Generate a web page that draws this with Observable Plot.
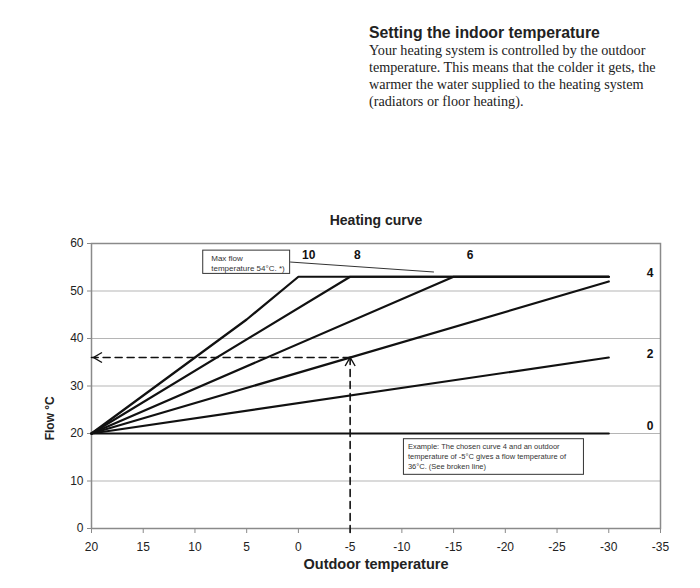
<!DOCTYPE html>
<html>
<head>
<meta charset="utf-8">
<script src="https://cdn.jsdelivr.net/npm/d3@7"></script>
<script src="https://cdn.jsdelivr.net/npm/@observablehq/plot@0.6"></script>
<style>
  html, body { margin: 0; padding: 0; background: #fff; }
  #wrap { position: relative; width: 700px; height: 588px; overflow: hidden; }
  #header { position: absolute; left: 369px; top: 23px; width: 331px; color: #222; }
  #header h2 { margin: 0; font: bold 15.8px "Liberation Sans", Arial, sans-serif; line-height: 19px; }
  #header p { margin: 0; font: 14.2px "Liberation Serif", "Times New Roman", serif; line-height: 17px; white-space: nowrap; }
  #chart { position: absolute; left: 0; top: 0; }
</style>
</head>
<body>
<div id="wrap">
  <div id="chart"></div>
  <div id="header">
    <h2>Setting the indoor temperature</h2>
    <p>Your heating system is controlled by the outdoor<br>temperature. This means that the colder it gets, the<br>warmer the water supplied to the heating system<br>(radiators or floor heating).</p>
  </div>
</div>
<script>
// ---- Data ----
const curve0  = [[20, 20], [-30, 20]];
const curve2  = [[20, 20], [-30, 36]];
const curve4  = [[20, 20], [-30, 52]];
const curve6  = [[20, 20], [-15, 53], [-30, 53]];
const curve8  = [[20, 20], [-5, 53], [-30, 53]];
const curve10 = [[20, 20], [5, 44], [0, 53], [-30, 53]];
const curveNames = ["0", "2", "4", "6", "8", "10"];
const curvePoints = [curve0, curve2, curve4, curve6, curve8, curve10];

// curve labels (name, outdoor temp, flow)
const labelNames = ["10", "8", "6", "4", "2", "0"];
const labelX = [-1, -5.7, -16.6, -34, -34, -34];
const labelY = [57.6, 57.6, 57.6, 53.8, 36.6, 21.5];

const xTicks = [20, 15, 10, 5, 0, -5, -10, -15, -20, -25, -30, -35];
const yTicks = [0, 10, 20, 30, 40, 50, 60];
const gridTicks = [10, 20, 30, 40, 50];

// example: curve 4 at -5 °C gives 36 °C
const exampleOutdoor = -5;
const exampleFlow = 36;

// annotation boxes (data coordinates)
const maxBox = {x1: 9.2, x2: 0.8, y1: 53.6, y2: 58.5};
const maxLeader = [[0.8, 56.1], [-13.1, 54.0]];
const maxText = "Max flow\ntemperature 54°C. *)";
const exBox = {x1: -10.2, x2: -27.6, y1: 11.3, y2: 18.8};
const exText = "Example: The chosen curve 4 and an outdoor\ntemperature of -5°C gives a flow temperature of\n36°C. (See broken line)";

// ---- Build table ----
const lineData = [];
curvePoints.forEach((pts, i) => pts.forEach(([x, y]) => lineData.push({curve: curveNames[i], x, y})));
const labels = labelNames.map((n, i) => ({n, x: labelX[i], y: labelY[i]}));

// open chevron symbols for arrowheads
const chevronLeft = {draw(ctx, size) { const r = Math.sqrt(size / Math.PI); ctx.moveTo(r * 1.7, -r); ctx.lineTo(0, 0); ctx.lineTo(r * 1.7, r); }};
const chevronUp = {draw(ctx, size) { const r = Math.sqrt(size / Math.PI); ctx.moveTo(-r, r * 1.7); ctx.lineTo(0, 0); ctx.lineTo(r, r * 1.7); }};

const font = "'Liberation Sans', Arial, sans-serif";

const chart = Plot.plot({
  width: 700,
  height: 588,
  marginLeft: 91,
  marginRight: 40,
  marginTop: 243,
  marginBottom: 60,
  style: {fontFamily: font, fontSize: "12px", color: "#222", background: "transparent"},
  x: {domain: [20, -35], ticks: xTicks, tickFormat: d => String(d), tickSize: 5, tickPadding: 9, label: null},
  y: {domain: [0, 60], ticks: yTicks, tickFormat: d => String(d), tickSize: 4, tickPadding: 4, label: null},
  marks: [
    Plot.gridY(gridTicks, {stroke: "#b5b5b5", strokeOpacity: 1, strokeWidth: 1}),
    Plot.frame({stroke: "#8a8a8a", strokeWidth: 1.5}),
    Plot.axisX({ticks: xTicks, tickFormat: d => String(d), tickSize: 5, tickPadding: 9, stroke: "#8a8a8a", fill: "#222", label: null}),
    Plot.axisY({ticks: yTicks, tickFormat: d => String(d), tickSize: 4, tickPadding: 4, stroke: "#8a8a8a", fill: "#222", label: null}),
    // dashed example lines
    Plot.line([{x: exampleOutdoor, y: exampleFlow}, {x: 20, y: exampleFlow}], {x: "x", y: "y", stroke: "#111", strokeWidth: 1.6, strokeDasharray: "7,5"}),
    Plot.line([{x: exampleOutdoor, y: exampleFlow}, {x: exampleOutdoor, y: -1.5}], {x: "x", y: "y", stroke: "#111", strokeWidth: 1.6, strokeDasharray: "7,5", clip: false}),
    Plot.dot([{x: 20, y: exampleFlow}], {x: "x", y: "y", symbol: chevronLeft, r: 5, fill: "none", stroke: "#111", strokeWidth: 1.4, dx: 2}),
    Plot.dot([{x: exampleOutdoor, y: exampleFlow}], {x: "x", y: "y", symbol: chevronUp, r: 5, fill: "none", stroke: "#111", strokeWidth: 1.4}),
    // curves
    Plot.line(lineData, {x: "x", y: "y", z: "curve", stroke: "#111", strokeWidth: 2.2, strokeLinejoin: "miter"}),
    // curve labels
    Plot.text(labels, {x: "x", y: "y", text: "n", fontWeight: "bold", fontSize: 12, fill: "#111"}),
    // max flow annotation
    Plot.link([maxLeader], {x1: d => d[0][0], y1: d => d[0][1], x2: d => d[1][0], y2: d => d[1][1], stroke: "#333", strokeWidth: 1}),
    Plot.rect([maxBox], {x1: "x1", x2: "x2", y1: "y1", y2: "y2", fill: "white", stroke: "#333", strokeWidth: 1}),
    Plot.text([maxText], {x: maxBox.x1, y: maxBox.y2, text: d => d, textAnchor: "start", lineAnchor: "top", fontSize: 8, lineHeight: 1.3, dx: 8, dy: 3, fill: "#333"}),
    // example annotation
    Plot.rect([exBox], {x1: "x1", x2: "x2", y1: "y1", y2: "y2", fill: "white", stroke: "#333", strokeWidth: 1}),
    Plot.text([exText], {x: exBox.x1, y: exBox.y2, text: d => d, textAnchor: "start", lineAnchor: "top", fontSize: 7.5, lineHeight: 1.3, dx: 4, dy: 3, fill: "#333"}),
    // titles
    Plot.text(["Heating curve"], {frameAnchor: "top", lineAnchor: "middle", dy: -23, text: d => d, fontWeight: "bold", fontSize: 14, fill: "#222"}),
    Plot.text(["Outdoor temperature"], {frameAnchor: "bottom", lineAnchor: "middle", dy: 36, text: d => d, fontWeight: "bold", fontSize: 14.5, fill: "#222", letterSpacing: "0.4px"}),
    Plot.text(["Flow °C"], {x: 20, y: 23.2, dx: -41, rotate: -90, text: d => d, fontWeight: "bold", fontSize: 12, fill: "#222"})
  ]
});
document.getElementById("chart").appendChild(chart);
</script>
</body>
</html>
